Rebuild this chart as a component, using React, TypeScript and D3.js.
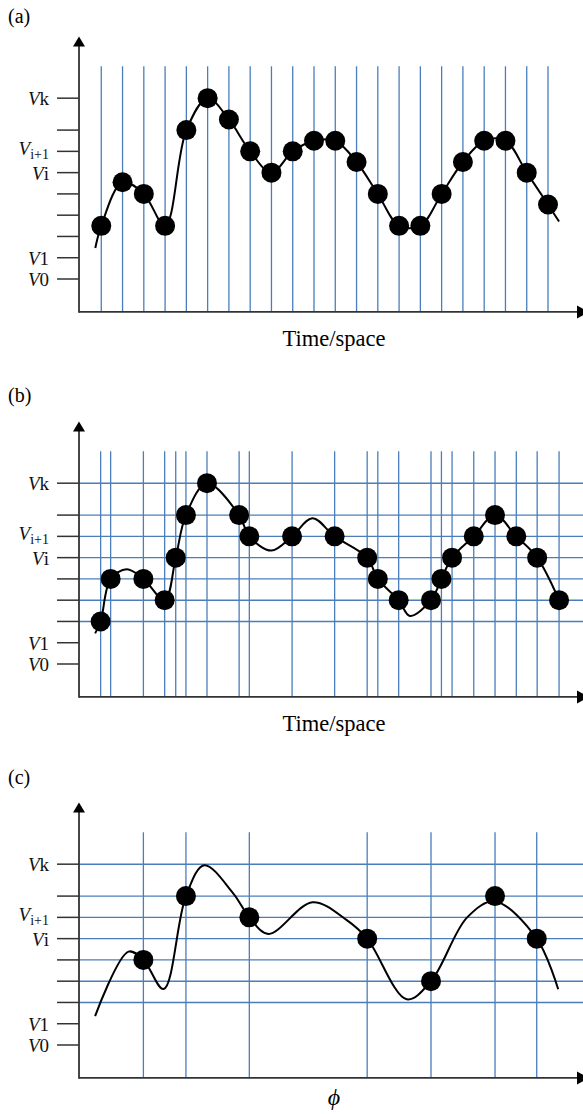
import * as d3 from 'd3';
import { useEffect, useRef } from 'react';

const width = 583;
const height = 1114;
const blue = '#4a7ebb';
const axisColor = '#333333';
const serif = '"Liberation Serif", "Times New Roman", "DejaVu Serif", serif';

// tick levels on the value axis (V0 ... Vk) and their subscripts
const tickLevels = [0, 1, 2, 3, 4, 5, 6, 7, 8.5];
const tickNames = ['0', '1', '', '', '', 'i', 'i+1', '', 'k'];
const gridLevels = [2, 3, 4, 5, 6, 7, 8.5];

// (a) uniform sampling in time
const sampleTimes = [1, 2, 3, 4, 5, 6, 7, 8, 9, 10, 11, 12, 13, 14, 15, 16, 17, 18, 19, 20, 21, 22];
const sampleValues = [2.5, 4.55, 4, 2.5, 7, 8.5, 7.5, 6, 5, 6, 6.5, 6.5, 5.5, 4, 2.5, 2.5, 4, 5.5, 6.5, 6.5, 5, 3.5];
const curveATimes = [0.72, ...sampleTimes, 22.52];
const curveAValues = [1.46, ...sampleValues, 2.7];

// (b) samples where the signal crosses a level
const crossTimes = [0.97, 1.44, 2.98, 3.98, 4.5, 4.98, 5.97, 7.48, 7.96, 9.97, 11.97, 13.5, 14, 14.98, 16.5, 16.99, 17.49, 18.51, 19.51, 20.51, 21.49, 22.52];
const crossValues = [2, 4, 4, 3, 5, 7, 8.5, 7, 6, 6, 6, 5, 4, 3, 3, 4, 5, 6, 7, 6, 5, 3];
const curveBTimes = [0.71, 0.97, 1.44, 2.2, 2.98, 3.98, 4.5, 4.98, 5.97, 7.48, 7.96, 9.0, 9.97, 10.92, 11.97, 13.5, 14, 14.98, 15.51, 16.5, 16.99, 17.49, 18.51, 19.51, 20.51, 21.49, 22.52];
const curveBValues = [1.44, 2, 4, 4.45, 4, 3, 5, 7, 8.5, 7, 6, 5.33, 6, 6.85, 6, 5, 4, 3, 2.26, 3, 4, 5, 6, 7, 6, 5, 3];

// (c) samples at phase points
const phaseTimes = [2.98, 4.98, 7.96, 13.5, 16.5, 19.51, 21.47];
const phaseValues = [4, 7, 6, 5, 3, 7, 5];
const curveCTimes = [0.71, 2.28, 2.98, 3.93, 4.98, 5.84, 7.2, 7.96, 8.86, 10.93, 12.54, 13.5, 15.36, 16.5, 18.2, 19.5, 21.47, 22.48];
const curveCValues = [1.36, 4.39, 4, 2.63, 7, 8.45, 7.13, 6, 5.22, 6.71, 5.87, 5, 2.15, 3, 6.0, 6.75, 5, 2.62];

const zip = (ts, vs) => ts.map((t, i) => ({ t, v: vs[i] }));

const panels = [
  {
    name: '(a)', v0: 279, labelY: 23, xLabel: 'Time/space', italicLabel: false, grid: false,
    lines: sampleTimes, points: zip(sampleTimes, sampleValues), curve: zip(curveATimes, curveAValues),
  },
  {
    name: '(b)', v0: 664, labelY: 402, xLabel: 'Time/space', italicLabel: false, grid: true,
    lines: crossTimes, points: zip(crossTimes, crossValues), curve: zip(curveBTimes, curveBValues),
  },
  {
    name: '(c)', v0: 1045, labelY: 784, xLabel: '\u03d5', italicLabel: true, grid: true,
    lines: phaseTimes, points: zip(phaseTimes, phaseValues), curve: zip(curveCTimes, curveCValues),
  },
];

const App = () => {
  const svgRef = useRef(null);

  useEffect(() => {
    const svg = d3.select(svgRef.current);
    svg.selectAll('*').remove();

    const x = d3.scaleLinear().domain([0, 22]).range([80, 548]);
    const unit = x(1) - x(0);

    panels.forEach((panel) => {
      const y = d3.scaleLinear().domain([0, 8.5]).range([panel.v0, panel.v0 - 8.5 * unit]);
      const g = svg.append('g');
      const axisY = y(-1.55);
      const x0 = 79;

      g.append('text')
        .attr('x', 8)
        .attr('y', panel.labelY)
        .attr('font-family', serif)
        .attr('font-size', 20)
        .text(panel.name);

      if (panel.grid) {
        g.append('g')
          .selectAll('line')
          .data(gridLevels)
          .join('line')
          .attr('x1', x0)
          .attr('x2', width + 5)
          .attr('y1', (d) => y(d))
          .attr('y2', (d) => y(d))
          .attr('stroke', blue)
          .attr('stroke-width', 1.4);
      }

      g.append('g')
        .selectAll('line')
        .data(panel.lines)
        .join('line')
        .attr('x1', (d) => x(d))
        .attr('x2', (d) => x(d))
        .attr('y1', y(10))
        .attr('y2', axisY)
        .attr('stroke', blue)
        .attr('stroke-width', 1.3);

      // axes
      g.append('line')
        .attr('x1', x0).attr('x2', x0)
        .attr('y1', y(11.4) + 8).attr('y2', axisY + 0.9)
        .attr('stroke', axisColor).attr('stroke-width', 1.8);
      g.append('line')
        .attr('x1', x0).attr('x2', 578)
        .attr('y1', axisY).attr('y2', axisY)
        .attr('stroke', axisColor).attr('stroke-width', 1.8);
      const tipY = y(11.4);
      g.append('path')
        .attr('d', `M${x0},${tipY} L${x0 - 6},${tipY + 10} L${x0 + 6},${tipY + 10} Z`)
        .attr('fill', '#000');
      g.append('path')
        .attr('d', `M${589},${axisY} L${577},${axisY - 6.5} L${577},${axisY + 6.5} Z`)
        .attr('fill', '#000');

      // ticks and their labels
      g.append('g')
        .selectAll('line')
        .data(tickLevels)
        .join('line')
        .attr('x1', 57)
        .attr('x2', x0)
        .attr('y1', (d) => y(d))
        .attr('y2', (d) => y(d))
        .attr('stroke', axisColor)
        .attr('stroke-width', 1.5);

      tickLevels.forEach((level, i) => {
        const name = tickNames[i];
        if (!name) return;
        const sub = name.length > 1;
        const label = g.append('text')
          .attr('x', 49)
          .attr('y', y(level) + (sub ? 4 : 7))
          .attr('text-anchor', 'end')
          .attr('font-family', serif)
          .attr('font-size', 19)
          .attr('fill', '#111');
        label.append('tspan').attr('font-style', 'italic').text('V');
        if (sub) {
          label.append('tspan').attr('font-size', 14).attr('dy', 4).text(name);
        } else {
          label.append('tspan').text(name);
        }
      });

      g.append('text')
        .attr('x', 334)
        .attr('y', axisY + (panel.italicLabel ? 27 : 34))
        .attr('text-anchor', 'middle')
        .attr('font-family', serif)
        .attr('font-size', panel.italicLabel ? 24 : 22.5)
        .attr('font-style', panel.italicLabel ? 'italic' : 'normal')
        .text(panel.xLabel);

      const line = d3
        .line()
        .x((d) => x(d.t))
        .y((d) => y(d.v))
        .curve(d3.curveCatmullRom.alpha(0.5));

      g.append('path')
        .datum(panel.curve)
        .attr('d', line)
        .attr('fill', 'none')
        .attr('stroke', '#000')
        .attr('stroke-width', 2);

      g.append('g')
        .selectAll('circle')
        .data(panel.points)
        .join('circle')
        .attr('cx', (d) => x(d.t))
        .attr('cy', (d) => y(d.v))
        .attr('r', 10)
        .attr('fill', '#000');
    });
  }, []);

  return (
    <svg
      ref={svgRef}
      width={width}
      height={height}
      style={{ position: 'absolute', left: 0, top: 0, display: 'block', background: '#fff' }}
    />
  );
};

export default App;
